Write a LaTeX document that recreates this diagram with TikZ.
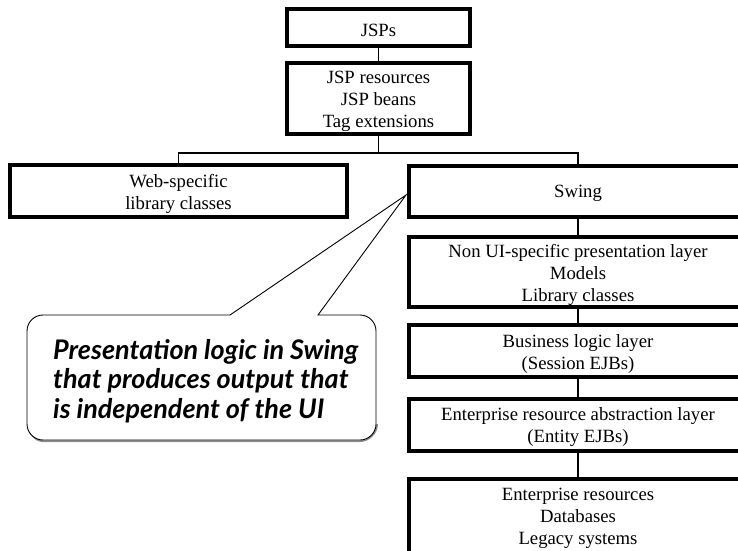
\documentclass[tikz,border=0pt]{standalone}
\usepackage{fontspec}
\setmainfont{Liberation Serif}
\newfontfamily\calloutfont{Lato}
\begin{document}
\begin{tikzpicture}[x=1pt, y=-1pt,
  layerbox/.style={draw=black, line width=4pt, fill=white, inner sep=0pt},
  boxtext/.style={inner sep=0pt, align=center, font=\fontsize{18.7}{22}\selectfont},
  link/.style={draw=black, line width=1.3pt},
  bubble/.style={draw=black, line width=0.9pt, fill=white},
  bubbleshade/.style={draw=black!45, line width=1.6pt}]
\useasboundingbox (0,0) rectangle (738,550);
\clip (0,0) rectangle (738,550);

% web tier
\node[layerbox, minimum width=183pt, minimum height=37pt] (jsps) at (378.5,27.5) {};
\node[boxtext] (jsps-t) at ([yshift=-2.5pt]jsps.center) {JSPs};
\node[layerbox, minimum width=183pt, minimum height=71pt] (jspres) at (378.5,98.5) {};
\node[boxtext] (jspres-t) at ([yshift=-2.5pt]jspres.center) {JSP resources\\JSP beans\\Tag extensions};
\node[layerbox, minimum width=337pt, minimum height=52pt] (web) at (178.5,191) {};
\node[boxtext] (web-t) at ([yshift=-2.5pt]web.center) {Web-specific\\library classes};

% client and back-end tiers
\node[layerbox, minimum width=338pt, minimum height=51pt] (swing) at (578,191.5) {};
\node[boxtext] (swing-t) at ([yshift=-2pt]swing.center) {Swing};
\node[layerbox, minimum width=338pt, minimum height=70pt] (nonui) at (578,272) {};
\node[boxtext] (nonui-t) at ([yshift=-2.5pt]nonui.center)
  {Non UI-specific presentation layer\\Models\\Library classes};
\node[layerbox, minimum width=338pt, minimum height=52pt] (biz) at (578,351) {};
\node[boxtext] (biz-t) at ([yshift=-2.5pt]biz.center) {Business logic layer\\(Session EJBs)};
\node[layerbox, minimum width=338pt, minimum height=52pt] (entity) at (578,425) {};
\node[boxtext] (entity-t) at ([yshift=-2.5pt]entity.center)
  {Enterprise resource abstraction layer\\(Entity EJBs)};
\node[layerbox, minimum width=338pt, minimum height=78pt] (entres) at (578,518) {};
\node[boxtext] (entres-t) at (entres.center) {Enterprise resources\\Databases\\Legacy systems};

% connectors
\coordinate (split) at (378.5,153);
\draw[link] (jsps.south) -- (jspres.north);
\draw[link] (jspres.south) -- (split);
\draw[link] (web.north) |- (split) -| (swing.north);
\draw[link] (swing.south) -- (nonui.north);
\draw[link] (nonui.south) -- (biz.north);
\draw[link] (biz.south) -- (entity.north);
\draw[link] (entity.south) -- (entres.north);

% speech bubble pointing at Swing
\coordinate (tip) at (406,195);
\draw[bubbleshade] (28.5,424) .. controls (28.5,433) and (35,441.2) .. (43,441.2)
  -- (360,441.2) .. controls (369,441.2) and (377.2,433) .. (377.2,424);
\draw[bubble] (43,315) -- (230,315) -- (tip) -- (318,315) -- (360,315)
  .. controls (368.8,315) and (376,322.2) .. (376,331) -- (376,424)
  .. controls (376,432.8) and (368.8,440) .. (360,440) -- (43,440)
  .. controls (34.2,440) and (27,432.8) .. (27,424) -- (27,331)
  .. controls (27,322.2) and (34.2,315) .. (43,315) -- cycle;
\node[anchor=west, align=left, inner sep=0pt,
  font=\calloutfont\bfseries\itshape\fontsize{27}{29.5}\selectfont] (note) at (53,381)
  {Presentation logic in Swing\\that produces output that\\is independent of the UI};
\end{tikzpicture}
\end{document}
